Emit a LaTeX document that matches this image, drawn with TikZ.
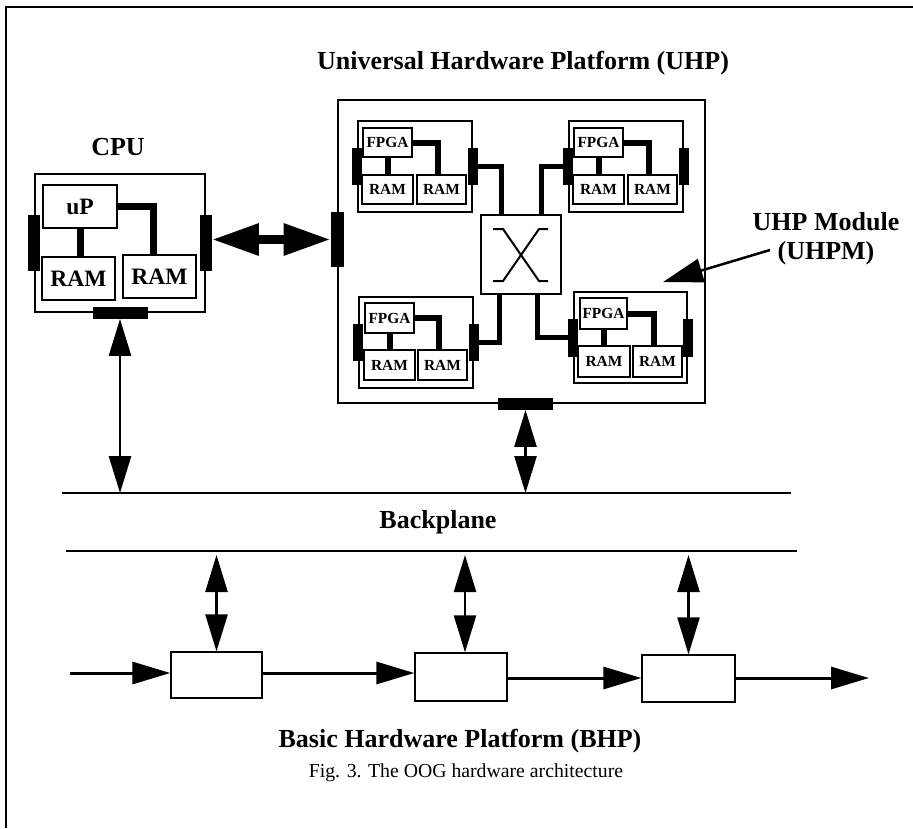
\documentclass[tikz,border=0pt]{standalone}
\usepackage{fontspec}
\setmainfont{Liberation Serif}
\usepackage{tikz}
\usetikzlibrary{arrows.meta,positioning,calc}

\begin{document}
\begin{tikzpicture}[x=1pt, y=-1pt,
  box/.style={draw, line width=1.3pt, inner sep=0pt},
  port/.style={fill=black, inner sep=0pt},
  bus/.style={line width=7pt},
  link/.style={line width=6pt},
  wire/.style={line width=5pt},
  hdr/.style={font=\fontsize{26}{29}\selectfont\bfseries, inner sep=0pt},
  cpuin/.style={font=\fontsize{23.5}{28}\selectfont\bfseries},
  modin/.style={font=\fontsize{15.4}{18}\selectfont\bfseries},
  capt/.style={font=\fontsize{19.75}{23}\selectfont, inner sep=0pt},
  arr/.style={{Triangle[length=37pt, width=22pt]}-{Triangle[length=37pt, width=22pt]}, line width=2.5pt},
  flow/.style={-{Triangle[length=38pt, width=22pt]}, line width=3pt},
  bigarr/.style={{Triangle[length=47pt, width=30pt]}-{Triangle[length=47pt, width=30pt]}, line width=9pt}]
  \useasboundingbox (0,0) rectangle (913,828);
  % frame
  \draw[line width=2pt] (6,828) -- (6,7) -- (913,7);
  % CPU
  \node[hdr] (cputxt) at (118,147) {CPU};
  \node[box, minimum width=170pt, minimum height=138pt] (cpu) at (120,243) {};
  \node[box, cpuin, minimum width=74pt, minimum height=43pt, below right=11pt and 8pt of cpu.north west] (up) {uP};
  \node[box, cpuin, minimum width=73pt, minimum height=43pt, below right=83pt and 7pt of cpu.north west] (ram1) {RAM};
  \node[box, cpuin, minimum width=73pt, minimum height=43pt, below right=81pt and 88pt of cpu.north west] (ram2) {RAM};
  \node[port, minimum width=12pt, minimum height=56pt] (cpuL) at (cpu.west) {};
  \node[port, minimum width=12pt, minimum height=56pt] (cpuR) at (cpu.east) {};
  \node[port, minimum width=55pt, minimum height=12pt] (cpuB) at (cpu.south) {};
  \draw[bus] (up.south) -- (up.south |- ram1.north);
  \draw[bus] (up.east) -| ($(ram2.north)+(-6,0)$);
  % UHP
  \node[hdr, anchor=base] (uhptxt) at (523,69.5) {Universal Hardware Platform (UHP)};
  \node[box, minimum width=367pt, minimum height=303pt] (uhp) at (521.5,251.5) {};
  \node[port, minimum width=13pt, minimum height=55pt] (uhpL) at ($(uhp.west)+(0,-12)$) {};
  \node[port, minimum width=55pt, minimum height=12pt] (uhpB) at ($(uhp.south)+(4,0)$) {};
  \draw[bigarr] (uhpL.west -| cpuR.east) -- (uhpL.west);
  % switch
  \node[box, minimum width=80pt, minimum height=79pt] (sw) at (521,254.5) {};
  \draw[line width=2pt] (493,229) -- (503,229) -- (539,281) -- (548,281);
  \draw[line width=2pt] (548,229) -- (539,229) -- (503,281) -- (493,281);
  % module 1
  \node[box, minimum width=114pt, minimum height=91pt] (m1) at (415,166.5) {};
  \node[box, modin, minimum width=49pt, minimum height=29pt, below right=7pt and 5pt of m1.north west] (m1f) {FPGA};
  \node[box, modin, minimum width=51pt, minimum height=29pt, below right=54pt and 4pt of m1.north west] (m1a) {RAM};
  \node[box, modin, minimum width=49pt, minimum height=29pt, below right=54pt and 59pt of m1.north west] (m1b) {RAM};
  \node[port, minimum width=10pt, minimum height=37pt] (m1L) at (m1.west) {};
  \node[port, minimum width=10pt, minimum height=37pt] (m1R) at (m1.east) {};
  \draw[link] (m1f.south) -- (m1f.south |- m1a.north);
  \draw[link] (m1f.east) -| ($(m1b.north)+(-4,0)$);
  % module 2
  \node[box, minimum width=114pt, minimum height=91pt] (m2) at (626,166.5) {};
  \node[box, modin, minimum width=49pt, minimum height=29pt, below right=7pt and 5pt of m2.north west] (m2f) {FPGA};
  \node[box, modin, minimum width=51pt, minimum height=29pt, below right=54pt and 4pt of m2.north west] (m2a) {RAM};
  \node[box, modin, minimum width=49pt, minimum height=29pt, below right=54pt and 59pt of m2.north west] (m2b) {RAM};
  \node[port, minimum width=10pt, minimum height=37pt] (m2L) at (m2.west) {};
  \node[port, minimum width=10pt, minimum height=37pt] (m2R) at (m2.east) {};
  \draw[link] (m2f.south) -- (m2f.south |- m2a.north);
  \draw[link] (m2f.east) -| ($(m2b.north)+(-4,0)$);
  % module 3
  \node[box, minimum width=114pt, minimum height=91pt] (m3) at (416,342.5) {};
  \node[box, modin, minimum width=49pt, minimum height=30pt, below right=6pt and 6pt of m3.north west] (m3f) {FPGA};
  \node[box, modin, minimum width=51pt, minimum height=30pt, below right=53pt and 5pt of m3.north west] (m3a) {RAM};
  \node[box, modin, minimum width=49pt, minimum height=30pt, below right=53pt and 59pt of m3.north west] (m3b) {RAM};
  \node[port, minimum width=10pt, minimum height=37pt] (m3L) at (m3.west) {};
  \node[port, minimum width=10pt, minimum height=37pt] (m3R) at (m3.east) {};
  \draw[link] (m3f.south) -- (m3f.south |- m3a.north);
  \draw[link] (m3f.east) -| ($(m3b.north)+(-4,0)$);
  % module 4
  \node[box, minimum width=113pt, minimum height=91pt] (m4) at (630.5,337.5) {};
  \node[box, modin, minimum width=47pt, minimum height=31pt, below right=6pt and 6pt of m4.north west] (m4f) {FPGA};
  \node[box, modin, minimum width=52pt, minimum height=31pt, below right=54pt and 4pt of m4.north west] (m4a) {RAM};
  \node[box, modin, minimum width=49pt, minimum height=31pt, below right=54pt and 59pt of m4.north west] (m4b) {RAM};
  \node[port, minimum width=10pt, minimum height=38pt] (m4L) at (m4.west) {};
  \node[port, minimum width=10pt, minimum height=38pt] (m4R) at (m4.east) {};
  \draw[link] (m4f.south) -- (m4f.south |- m4a.north);
  \draw[link] (m4f.east) -| ($(m4b.north)+(-4,0)$);
  % modules to switch
  \draw[wire] (m1R.east) -| ($(sw.north)+(-20,0)$);
  \draw[wire] (m2L.west) -| ($(sw.north)+(20,0)$);
  \draw[wire] ($(sw.south)+(-22,0)$) |- (m3R.east);
  \draw[wire] ($(sw.south)+(16,0)$) |- (m4L.west);
  % UHPM label
  \node[hdr, align=center] (uhpm) at (826,239) {UHP Module\\(UHPM)};
  \coordinate (umtail) at (770,250);
  \coordinate (umtip) at (663,282);
  \draw[-{Triangle[length=40pt, width=24pt]}, line width=2.5pt] (umtail) -- (umtip);
  % backplane
  \coordinate (bpa1) at (62,493);
  \coordinate (bpa2) at (791,493);
  \coordinate (bpb1) at (66,551);
  \coordinate (bpb2) at (797,551);
  \draw[line width=1.5pt] (bpa1) -- (bpa2);
  \draw[line width=1.5pt] (bpb1) -- (bpb2);
  \node[hdr] (bp) at (438,522) {Backplane};
  \draw[arr] (cpuB.south) -- (cpuB.south |- bpa1);
  \draw[arr] (uhpB.south) -- (uhpB.south |- bpa1);
  % BHP
  \node[box, minimum width=91pt, minimum height=46pt] (b1) at (216.5,675) {};
  \node[box, minimum width=92pt, minimum height=48pt] (b2) at (461,677) {};
  \node[box, minimum width=93pt, minimum height=47pt] (b3) at (688.5,678.5) {};
  \draw[arr] ($(b1.north |- bpb1)+(0,4)$) -- (b1.north);
  \draw[arr] ($(b2.north |- bpb1)+(4,4)$) -- ($(b2.north)+(4,0)$);
  \draw[arr] ($(b3.north |- bpb1)+(0,4)$) -- (b3.north);
  \coordinate (in) at (70,673);
  \coordinate (out) at (869,678);
  \draw[flow] (in) -- (in -| b1.west);
  \draw[flow] (b1.east |- in) -- (in -| b2.west);
  \draw[flow] (b2.east |- out) -- (out -| b3.west);
  \draw[flow] (b3.east |- out) -- (out);
  \node[hdr, anchor=base] (bhp) at (460,747) {Basic Hardware Platform (BHP)};
  \node[capt] (cap) at (466,773) {Fig. 3. The OOG hardware architecture};
\end{tikzpicture}
\end{document}
